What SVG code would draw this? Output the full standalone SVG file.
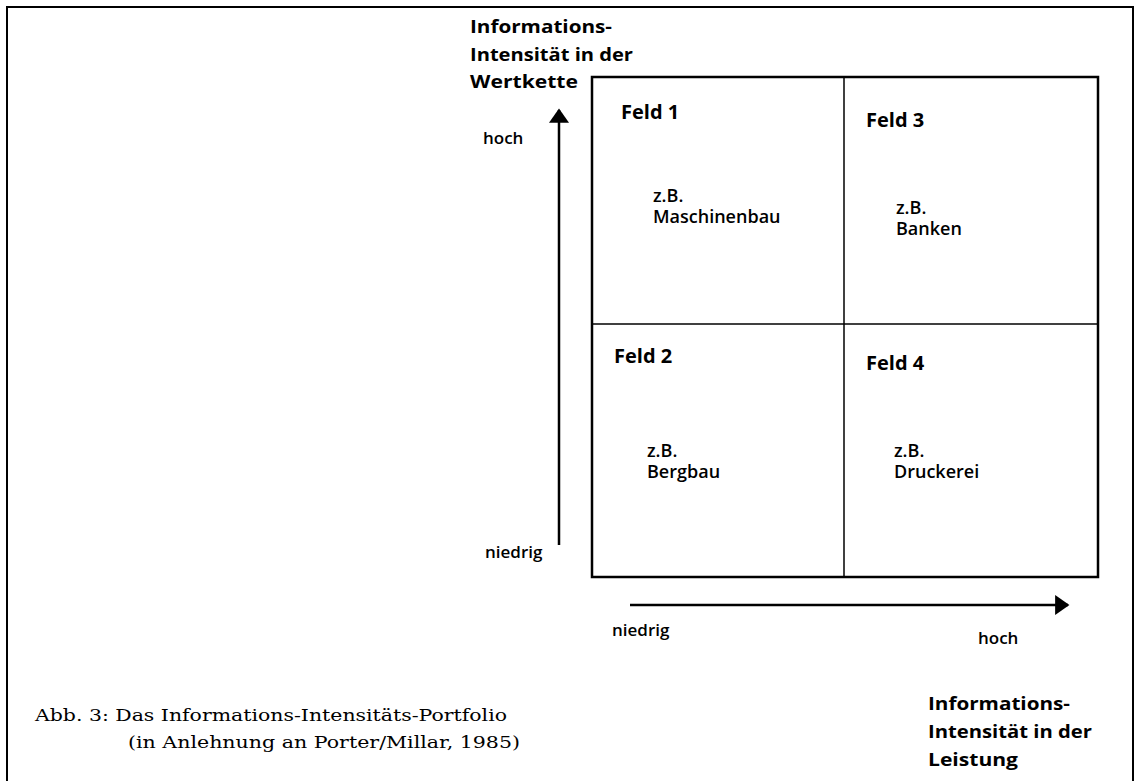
<svg xmlns="http://www.w3.org/2000/svg" width="1140" height="781" viewBox="0 0 1140 781">
<defs>
<style>
.s{font-family:"Open Sans","Liberation Sans",sans-serif;fill:#000}
.b{font-weight:bold;font-size:18px}
.lab{font-size:17px;font-weight:600}
.f{font-weight:bold;font-size:20px}
.e{font-size:18px;font-weight:600}
.cap{font-family:"DejaVu Serif",serif;font-size:17px;fill:#000}
.ln{stroke:#000;fill:none}
</style>
<marker id="ah" viewBox="0 0 10 14" refX="9" refY="7" markerWidth="6" markerHeight="8" markerUnits="strokeWidth" orient="auto">
<path d="M0,0 L10,7 L0,14 z" fill="#000"/>
</marker>
</defs>
<rect width="1140" height="781" fill="#fff"/>
<g id="frame"><path class="ln" stroke-width="2" d="M7,781 V7 H1133 V781"/></g>
<g id="yaxis-title">
<text class="s b" x="470" y="33" textLength="142" lengthAdjust="spacingAndGlyphs">Informations-</text>
<text class="s b" x="470" y="61" textLength="163" lengthAdjust="spacingAndGlyphs">Intensität in der</text>
<text class="s b" x="470" y="88" textLength="108" lengthAdjust="spacingAndGlyphs">Wertkette</text>
<text class="s lab" x="483" y="144">hoch</text>
<text class="s lab" x="485" y="558">niedrig</text>
</g>
<g id="connectors">
<line class="ln" stroke-width="2.5" x1="559" y1="545" x2="559" y2="110" marker-end="url(#ah)"/>
<line class="ln" stroke-width="2.5" x1="630" y1="605" x2="1068" y2="605" marker-end="url(#ah)"/>
</g>
<g id="grid">
<rect class="ln" stroke-width="2.5" x="592" y="77" width="506" height="500"/>
<line class="ln" stroke-width="1.5" x1="844" y1="77" x2="844" y2="577"/>
<line class="ln" stroke-width="1.5" x1="592" y1="324" x2="1098" y2="324"/>
</g>
<g id="feld1">
<text class="s f" x="621" y="119">Feld 1</text>
<text class="s e" x="653" y="202">z.B.</text>
<text class="s e" x="653" y="223">Maschinenbau</text>
</g>
<g id="feld3">
<text class="s f" x="866" y="127">Feld 3</text>
<text class="s e" x="896" y="214">z.B.</text>
<text class="s e" x="896" y="235">Banken</text>
</g>
<g id="feld2">
<text class="s f" x="614" y="363">Feld 2</text>
<text class="s e" x="647" y="457">z.B.</text>
<text class="s e" x="647" y="478">Bergbau</text>
</g>
<g id="feld4">
<text class="s f" x="866" y="370">Feld 4</text>
<text class="s e" x="894" y="457">z.B.</text>
<text class="s e" x="894" y="478">Druckerei</text>
</g>
<g id="xaxis-title">
<text class="s lab" x="612" y="636">niedrig</text>
<text class="s lab" x="978" y="644">hoch</text>
<text class="s b" x="928" y="710" textLength="142" lengthAdjust="spacingAndGlyphs">Informations-</text>
<text class="s b" x="928" y="738" textLength="164" lengthAdjust="spacingAndGlyphs">Intensität in der</text>
<text class="s b" x="928" y="766" textLength="90" lengthAdjust="spacingAndGlyphs">Leistung</text>
</g>
<g id="caption">
<text class="cap" x="35" y="721" textLength="472" lengthAdjust="spacingAndGlyphs">Abb. 3: Das Informations-Intensitäts-Portfolio</text>
<text class="cap" x="128" y="748" textLength="392" lengthAdjust="spacingAndGlyphs">(in Anlehnung an Porter/Millar, 1985)</text>
</g>
</svg>
